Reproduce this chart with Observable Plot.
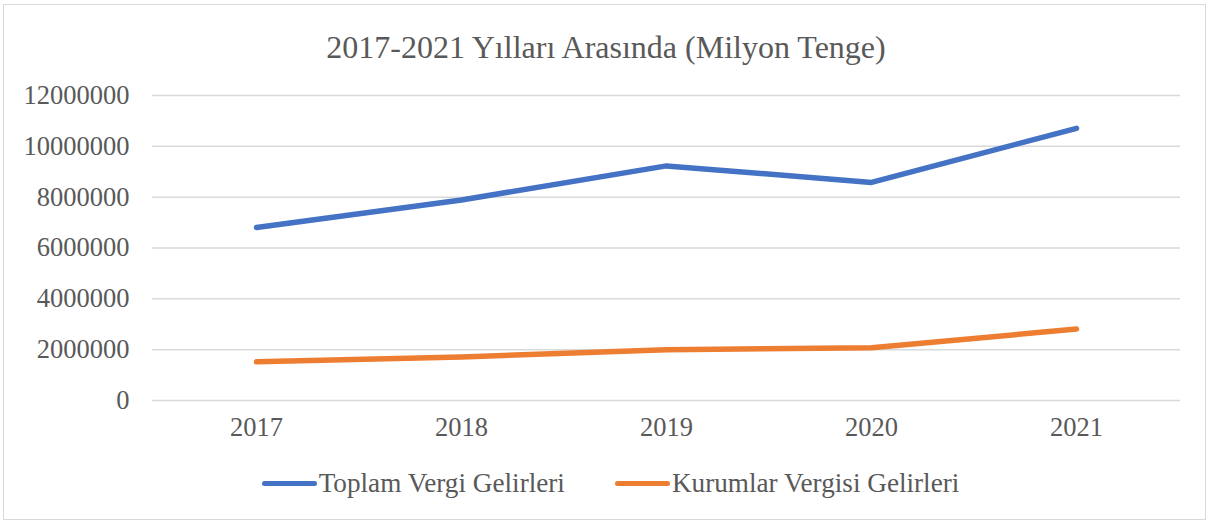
<!DOCTYPE html>
<html>
<head>
<meta charset="utf-8">
<script src="https://cdn.jsdelivr.net/npm/d3@7"></script>
<script src="https://cdn.jsdelivr.net/npm/@observablehq/plot@0.6"></script>
<style>
  html, body { margin: 0; padding: 0; background: #fff; }
  #wrap { position: relative; width: 1210px; height: 525px; overflow: hidden; font-family: "Liberation Serif", "Times New Roman", serif; color: #595959; }
  #border { position: absolute; left: 3px; top: 4px; width: 1203px; height: 516px; border: 1.5px solid #d9d9d9; box-sizing: border-box; }
  #title { position: absolute; left: 0; width: 1212px; top: 31px; text-align: center; font-size: 32px; line-height: 1; white-space: nowrap; }
  #chart { position: absolute; left: 0; top: 0; }
  #legend { position: absolute; left: 0; width: 1221px; top: 470px; display: flex; justify-content: center; align-items: center; font-size: 27.2px; line-height: 1; white-space: nowrap; }
  .item { display: flex; align-items: center; }
  .item + .item { margin-left: 50px; }
  .sw { width: 55px; height: 5.5px; border-radius: 3px; margin-right: 2px; }
</style>
</head>
<body>
<div id="wrap">
  <div id="border"></div>
  <div id="chart"></div>
  <div id="title"></div>
  <div id="legend"></div>
</div>
<script>
const titleText = "2017-2021 Yılları Arasında (Milyon Tenge)";
const years = ["2017", "2018", "2019", "2020", "2021"];
const toplamVergi = [6810000, 7890000, 9230000, 8580000, 10710000];
const kurumlarVergisi = [1520000, 1710000, 2000000, 2075000, 2810000];
const yTicks = [0, 2000000, 4000000, 6000000, 8000000, 10000000, 12000000];
const seriesNames = ["Toplam Vergi Gelirleri", "Kurumlar Vergisi Gelirleri"];
const seriesColors = ["#4472C4", "#ED7D31"];

const rows = [];
years.forEach((y, i) => {
  rows.push({year: y, value: toplamVergi[i], series: seriesNames[0]});
  rows.push({year: y, value: kurumlarVergisi[i], series: seriesNames[1]});
});

const plot = Plot.plot({
  width: 1210,
  height: 525,
  marginTop: 95,
  marginBottom: 125,
  marginLeft: 152,
  marginRight: 30,
  style: {fontFamily: "'Liberation Serif', 'Times New Roman', serif", fontSize: "26.5px", color: "#595959", background: "transparent", overflow: "visible"},
  x: {type: "point", domain: years, padding: 0.5, label: null, tickSize: 0, tickPadding: 17},
  y: {domain: [0, 12000000], ticks: yTicks, tickFormat: d => String(d), label: null, tickSize: 0, tickPadding: 23},
  color: {domain: seriesNames, range: seriesColors},
  marks: [
    Plot.gridY(yTicks, {stroke: "#d9d9d9", strokeOpacity: 1, strokeWidth: 1.5}),
    Plot.axisX({tickSize: 0, tickPadding: 17, label: null}),
    Plot.axisY({ticks: yTicks, tickFormat: d => String(d), tickSize: 0, tickPadding: 23, label: null}),
    Plot.line(rows, {x: "year", y: "value", z: "series", stroke: "series", strokeWidth: 5.5, strokeLinecap: "round", strokeLinejoin: "round"})
  ]
});
document.getElementById("chart").appendChild(plot);
document.getElementById("title").textContent = titleText;

const legend = document.getElementById("legend");
seriesNames.forEach((name, i) => {
  const item = document.createElement("div");
  item.className = "item";
  const sw = document.createElement("div");
  sw.className = "sw";
  sw.style.background = seriesColors[i];
  const label = document.createElement("span");
  label.textContent = name;
  item.appendChild(sw);
  item.appendChild(label);
  legend.appendChild(item);
});
</script>
</body>
</html>
